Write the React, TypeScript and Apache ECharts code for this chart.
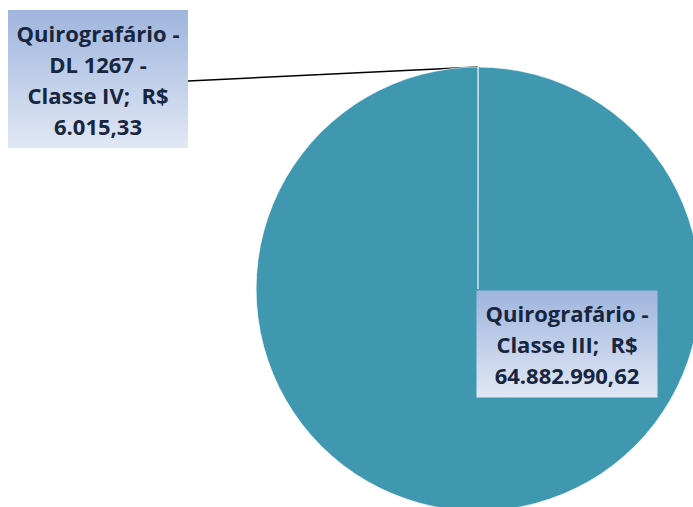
import React, { useEffect, useRef } from "react";
import * as echarts from "echarts";

const categories = ["Quirografário -\nDL 1267 -\nClasse IV", "Quirografário -\nClasse III"];
const values = [6015.33, 64882990.62];
const labelCenters = [
  [98, 79],
  [567, 344],
];

function fmtBRL(v: number): string {
  const [intPart, dec] = v.toFixed(2).split(".");
  const withDots = intPart.replace(/\B(?=(\d{3})+(?!\d))/g, ".");
  return withDots + "," + dec;
}

export default function App() {
  const ref = useRef<HTMLDivElement>(null);
  useEffect(() => {
    if (!ref.current) return;
    const chart = echarts.init(ref.current, null, { renderer: "svg" });
    const grad = () =>
      new echarts.graphic.LinearGradient(0, 0, 0, 1, [
        { offset: 0, color: "#9fb5dd" },
        { offset: 1, color: "#e1e8f5" },
      ]);
    chart.setOption({
      animation: false,
      backgroundColor: "#ffffff",
      series: [
        {
          type: "pie",
          center: [478, 289],
          radius: 222,
          startAngle: 90,
          clockwise: true,
          minAngle: 0,
          avoidLabelOverlap: false,
          color: ["#3f98b0", "#3f98b0"],
          itemStyle: { borderColor: "rgba(255,255,255,0.85)", borderWidth: 0.8 },
          label: {
            show: true,
            formatter: (p: any) => `${p.name};  R$\n${fmtBRL(p.value)}`,
            fontFamily: "Open Sans",
            fontWeight: "bold",
            fontSize: 22,
            lineHeight: 31,
            color: "#17263e",
            align: "center",
            overflow: "none",
            backgroundColor: grad(),
            padding: [7, 4, 7, 4],
          },
          labelLine: { show: true, length: 10, length2: 10, lineStyle: { color: "#000000", width: 1.6 } },
          labelLayout: (params: any) => {
            const c = labelCenters[params.dataIndex];
            const r = params.labelRect;
            const res: any = { x: c[0], y: c[1], align: "center", verticalAlign: "middle" };
            if (params.dataIndex === 0 && params.labelLinePoints) {
              const anchor = params.labelLinePoints[0];
              res.labelLinePoints = [anchor, [c[0] + r.width / 2, c[1] + 2]];
            }
            return res;
          },
          data: categories.map((name, i) => ({
            name,
            value: values[i],
            label: i === 0 ? { position: "outside", width: 172 } : { position: "inside", width: 173 },
            labelLine: { show: i === 0 },
          })),
        },
      ],
    });
    return () => chart.dispose();
  }, []);
  return (
    <div
      ref={ref}
      style={{ position: "absolute", left: 0, top: 0, width: 693, height: 507 }}
    />
  );
}
